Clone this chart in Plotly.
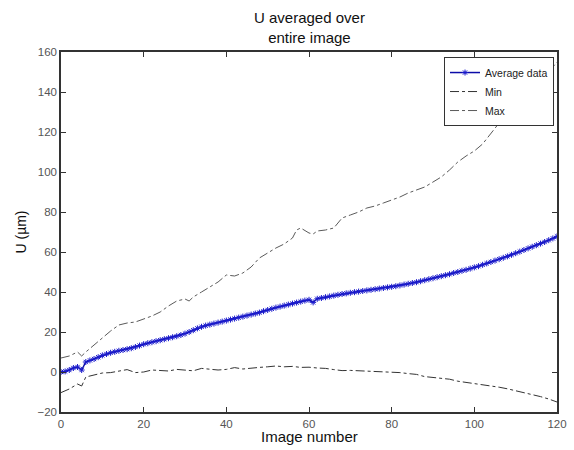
import plotly.graph_objects as go

# Average data (image number 0..120)
avg_x = list(range(0, 121))
avg_y = [
    0, 0.3, 1.0, 2.0, 2.5, 1.0, 5.0, 5.8, 6.5, 7.4, 8.3,
    9.0, 9.6, 10.1, 10.6, 11.0, 11.4, 11.9, 12.5, 13.2, 13.9,
    14.4, 14.9, 15.4, 15.9, 16.4, 16.9, 17.4, 17.9, 18.5, 19.2,
    20.0, 20.9, 21.8, 22.6, 23.2, 23.7, 24.2, 24.7, 25.2, 25.7,
    26.2, 26.7, 27.2, 27.7, 28.2, 28.7, 29.2, 29.7, 30.4, 31.0,
    31.6, 32.2, 32.7, 33.2, 33.7, 34.2, 34.7, 35.2, 35.7, 36.1,
    34.8, 36.6, 37.0, 37.4, 37.8, 38.2, 38.6, 39.0, 39.3, 39.6,
    39.9, 40.2, 40.5, 40.8, 41.1, 41.4, 41.7, 42.0, 42.3, 42.6,
    42.9, 43.3, 43.7, 44.1, 44.5, 44.9, 45.4, 45.9, 46.4, 46.9,
    47.4, 47.9, 48.4, 48.9, 49.5, 50.0, 50.6, 51.1, 51.7, 52.3,
    52.9, 53.6, 54.3, 55.0, 55.7, 56.4, 57.1, 57.8, 58.6, 59.4,
    60.2, 61.0, 61.8, 62.6, 63.4, 64.2, 65.0, 65.9, 66.8, 67.8,
]

max_x = [0, 2, 4, 5, 6, 8, 10, 12, 14, 16, 18, 20, 22, 24, 26, 28, 30, 31, 32, 34,
         36, 38, 40, 42, 44, 46, 48, 50, 52, 54, 56, 57, 58, 60, 61, 62, 64, 66, 68, 70,
         72, 74, 76, 78, 80, 82, 84, 86, 88, 90, 92, 94, 96, 98, 100, 102, 104, 106, 108, 110,
         112, 114, 116, 118, 120]
max_y = [7, 8, 10, 8, 10, 13.5, 17, 20.5, 23.5, 24.5, 25, 26.5, 28, 30, 33, 35.5, 36.5, 35.5, 37.5, 40,
         42.5, 45, 48.5, 48, 49.5, 52.5, 57, 59.5, 62, 64, 67, 71, 72, 69.5, 69, 70.5, 71, 72, 77, 78.5,
         80, 82, 83, 84.5, 86, 87.5, 89.5, 91, 92.5, 95, 97.5, 101, 105, 108, 110.5, 114, 119.5, 124.5, 128.5, 132,
         137, 141, 146, 150, 155]

min_x = [0, 2, 4, 5, 6, 8, 10, 12, 14, 16, 18, 20, 22, 24, 26, 28, 30, 32, 34, 36,
         38, 40, 42, 44, 46, 48, 50, 52, 54, 56, 58, 60, 62, 64, 66, 68, 70, 72, 74, 76,
         78, 80, 82, 84, 86, 88, 90, 92, 94, 96, 98, 100, 102, 104, 106, 108, 110, 112, 114, 116,
         118, 120]
min_y = [-10.3, -8.5, -6, -7, -2.5, -1.5, -0.5, -0.3, 0.5, 1.2, -0.3, 0, 1, 0.7, 0.5, 1.3, 1, 0.6, 1.8, 1.5,
         1, 1.3, 2.2, 1.5, 2.0, 2.3, 2.6, 3, 2.6, 2.8, 2.3, 2.4, 2, 1.8, 1.2, 0.7, 0.8, 0.6, 0.7, 0.5,
         0, -0.2, -0.3, -0.8, -1.2, -2.3, -2.8, -3, -3.6, -4.6, -5.2, -5.6, -6.3, -7, -7.6, -8.4, -9.3, -10.3, -11.3, -12.3,
         -13.5, -15]

x_ticks = [0, 20, 40, 60, 80, 100, 120]
y_ticks = [-20, 0, 20, 40, 60, 80, 100, 120, 140, 160]
title_text = "U averaged over<br>entire image"
x_title = "Image number"
y_title = "U (µm)"

FONT = "Liberation Sans, Arial, sans-serif"

fig = go.Figure()
fig.add_trace(go.Scatter(
    x=avg_x, y=avg_y, mode="lines+markers", name="Average data",
    line=dict(color="#0c0ca8", width=1.5),
    marker=dict(symbol="asterisk-open", size=5, color="#1a1acc",
                line=dict(color="#2424d0", width=1)),
))
fig.add_trace(go.Scatter(
    x=min_x, y=min_y, mode="lines", name="Min",
    line=dict(color="#333333", width=1, dash="dashdot"),
))
fig.add_trace(go.Scatter(
    x=max_x, y=max_y, mode="lines", name="Max",
    line=dict(color="#5a5a5a", width=1, dash="dashdot"),
))

axis_common = dict(
    showline=True, linecolor="#333333", linewidth=1.5, mirror="ticks",
    ticks="inside", ticklen=5, tickcolor="#333333", tickwidth=1,
    showgrid=False, zeroline=False, automargin=False, ticklabeloverflow="allow",
    tickfont=dict(family=FONT, size=11.5, color="#555555"),
)

fig.update_layout(
    width=574, height=450,
    margin=dict(l=61, r=17, t=52, b=38),
    paper_bgcolor="white", plot_bgcolor="white",
    font=dict(family=FONT, color="#111111"),
    xaxis=dict(range=[0, 120], tickvals=x_ticks, **axis_common),
    yaxis=dict(range=[-20, 160], tickvals=y_ticks,
               title=dict(text=y_title, font=dict(family=FONT, size=14, color="#111111"), standoff=8),
               **axis_common),
    legend=dict(x=0.994, xanchor="right", y=0.986, yanchor="top",
                bgcolor="white", bordercolor="#333333", borderwidth=1,
                font=dict(family=FONT, size=10.5, color="#222222"),
                tracegroupgap=0, itemwidth=30),
    showlegend=True,
    annotations=[
        dict(text=title_text, xref="paper", yref="paper", x=0.5, y=1.068,
             xanchor="center", yanchor="middle", showarrow=False,
             font=dict(family=FONT, size=15, color="#111111")),
        dict(text=x_title, xref="paper", yref="paper", x=0.5, y=-0.069,
             xanchor="center", yanchor="middle", showarrow=False,
             font=dict(family=FONT, size=15, color="#111111")),
    ],
)

# remove the default 8px page margin so the 574x450 figure fills the window
fig.write_html("out.html", config={"displayModeBar": False},
               post_script="document.body.style.margin='0';")
